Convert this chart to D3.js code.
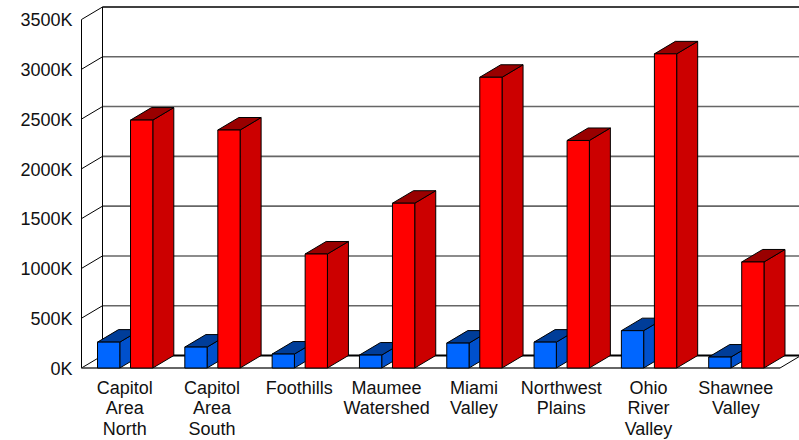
<!DOCTYPE html>
<html>
<head>
<meta charset="utf-8">
<script src="https://cdn.jsdelivr.net/npm/d3@7/dist/d3.min.js"></script>
<style>
  html, body { margin: 0; padding: 0; background: #fff; }
  svg { display: block; }
  text { font-family: "Liberation Sans", Arial, sans-serif; font-size: 18px; fill: #111; }
</style>
</head>
<body>
<svg id="chart" width="799" height="440"></svg>
<script>
// Chart data
const categories = [
  ["Capitol", "Area", "North"],
  ["Capitol", "Area", "South"],
  ["Foothills"],
  ["Maumee", "Watershed"],
  ["Miami", "Valley"],
  ["Northwest", "Plains"],
  ["Ohio", "River", "Valley"],
  ["Shawnee", "Valley"]
];
const blueValues = [260, 210, 140, 130, 250, 260, 375, 110];
const redValues = [2490, 2390, 1145, 1655, 2920, 2285, 3155, 1065];
const yTicks = [0, 500, 1000, 1500, 2000, 2500, 3000, 3500];

const svg = d3.select("#chart");

// 3D offset between the front plane and the back wall
const depthX = 21, depthY = -12.5;
const frontLeft = 81.5, frontRight = 780, frontBottom = 368, frontTop = 19.5;

const y = d3.scaleLinear().domain([0, 3500]).range([frontBottom, frontTop]);
const x = d3.scaleBand()
  .domain(d3.range(categories.length))
  .range([frontLeft, frontRight]);
const inner = d3.scaleBand()
  .domain(["blue", "red"])
  .range([0, x.bandwidth()])
  .paddingInner(0.325)
  .paddingOuter(0.485);

const series = [
  { key: "blue", values: blueValues, front: "#0066ff", side: "#0050cc", top: "#003d99" },
  { key: "red", values: redValues, front: "#ff0000", side: "#cc0000", top: "#990000" }
];

// walls and gridlines
const walls = svg.append("g");

walls.selectAll("line.grid")
  .data(yTicks.slice(1, -1))
  .join("line")
  .attr("class", "grid")
  .attr("x1", frontLeft + depthX)
  .attr("x2", 799)
  .attr("y1", d => y(d) + depthY)
  .attr("y2", d => y(d) + depthY)
  .attr("stroke", "#666")
  .attr("stroke-width", 1.6);

// slanted ticks on the left wall
walls.selectAll("line.slant")
  .data(yTicks)
  .join("line")
  .attr("class", "slant")
  .attr("x1", frontLeft)
  .attr("x2", frontLeft + depthX)
  .attr("y1", d => y(d))
  .attr("y2", d => y(d) + depthY)
  .attr("stroke", "#000")
  .attr("stroke-width", 1);

// top edge, back floor edge
walls.append("line")
  .attr("x1", frontLeft + depthX).attr("x2", 799)
  .attr("y1", y(3500) + depthY).attr("y2", y(3500) + depthY)
  .attr("stroke", "#000").attr("stroke-width", 1.4);
walls.append("line")
  .attr("x1", frontLeft + depthX).attr("x2", 799)
  .attr("y1", y(0) + depthY).attr("y2", y(0) + depthY)
  .attr("stroke", "#000").attr("stroke-width", 2);

// vertical wall edges
walls.append("line")
  .attr("x1", frontLeft).attr("x2", frontLeft)
  .attr("y1", y(3500)).attr("y2", y(0))
  .attr("stroke", "#000").attr("stroke-width", 1);
walls.append("line")
  .attr("x1", frontLeft + depthX).attr("x2", frontLeft + depthX)
  .attr("y1", y(3500) + depthY).attr("y2", y(0) + depthY)
  .attr("stroke", "#000").attr("stroke-width", 1);

// front floor edge and right floor edge
walls.append("line")
  .attr("x1", frontLeft).attr("x2", frontRight)
  .attr("y1", y(0)).attr("y2", y(0))
  .attr("stroke", "#333").attr("stroke-width", 1.4);
walls.append("line")
  .attr("x1", frontRight).attr("x2", frontRight + depthX)
  .attr("y1", y(0)).attr("y2", y(0) + depthY)
  .attr("stroke", "#000").attr("stroke-width", 1);

// bars, left to right so that each box overlaps the one behind it
const bars = svg.append("g").attr("stroke", "#000").attr("stroke-width", 1).attr("stroke-linejoin", "round");

categories.forEach((cat, i) => {
  series.forEach(s => {
    const x0 = x(i) + inner(s.key);
    const x1 = x0 + inner.bandwidth();
    const yTop = y(s.values[i]);
    const yBase = y(0);
    const g = bars.append("g");
    g.append("path")
      .attr("fill", s.side)
      .attr("d", d3.line()([[x1, yTop], [x1 + depthX, yTop + depthY], [x1 + depthX, yBase + depthY], [x1, yBase]]) + "Z");
    g.append("path")
      .attr("fill", s.top)
      .attr("d", d3.line()([[x0, yTop], [x0 + depthX, yTop + depthY], [x1 + depthX, yTop + depthY], [x1, yTop]]) + "Z");
    g.append("rect")
      .attr("fill", s.front)
      .attr("x", x0)
      .attr("y", yTop)
      .attr("width", x1 - x0)
      .attr("height", yBase - yTop);
  });
});

// y axis labels
const yAxis = d3.axisLeft(y)
  .tickValues(yTicks)
  .tickSize(0)
  .tickPadding(9)
  .tickFormat(d => d + "K");
const yG = svg.append("g")
  .attr("transform", `translate(${frontLeft},0)`)
  .call(yAxis);
yG.select(".domain").remove();
yG.selectAll("text").attr("dy", "0.35em");
yG.attr("font-size", null).attr("font-family", null);

// category labels, one tspan per line
const labels = svg.append("g").attr("text-anchor", "middle");
categories.forEach((lines, i) => {
  const t = labels.append("text");
  lines.forEach((line, j) => {
    t.append("tspan")
      .attr("x", x(i) + x.bandwidth() / 2 - 0.5)
      .attr("y", 394 + j * 20.4)
      .text(line);
  });
});
</script>
</body>
</html>
